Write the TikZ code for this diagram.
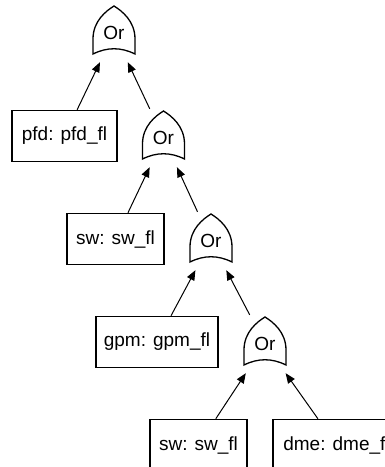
\documentclass[tikz,border=0pt]{standalone}
\usepackage{fontspec}
\setmainfont{Liberation Sans}
\usetikzlibrary{arrows.meta}

\begin{document}
\begin{tikzpicture}[x=1pt, y=-1pt,
  font=\fontsize{19}{22}\selectfont,
  event/.style={draw, line width=1.5pt, inner sep=0pt, minimum height=51pt},
  orgate/.style={inner sep=0pt, minimum width=42pt, minimum height=58pt},
  edge/.style={line width=1pt, -{Triangle[length=10pt, width=8pt]}}]
  \useasboundingbox (0,0) rectangle (384,467);

  \node[orgate] (g1) at (114,33) {Or};
  \node[event, minimum width=105pt] (pfd) at (64.5,136) {pfd: pfd\_fl};
  \node[orgate] (g2) at (163.5,138) {Or};
  \node[event, minimum width=97pt] (sw1) at (115.5,239) {sw: sw\_fl};
  \node[orgate] (g3) at (211,241) {Or};
  \node[event, minimum width=122pt] (gpm) at (157,342) {gpm: gpm\_fl};
  \node[orgate] (g4) at (265,344) {Or};
  \node[event, minimum width=97pt] (sw2) at (198.5,445) {sw: sw\_fl};
  \node[event, minimum width=127pt] (dme) at (336.5,445) {dme: dme\_fl};

  % the Or outlines
  \foreach \g in {g1,g2,g3,g4}
    \draw[line width=1.3pt, shift={(\g.center)}] (0,-27)
      .. controls (-8,-22) and (-21,-12) .. (-21,6) -- (-21,21)
      .. controls (-7,14) and (7,14) .. (21,21) -- (21,6)
      .. controls (21,-12) and (8,-22) .. cycle;

  \draw[edge] (pfd) -- (g1);
  \draw[edge] (g2) -- (g1);
  \draw[edge] (sw1) -- (g2);
  \draw[edge] (g3) -- (g2);
  \draw[edge] (gpm) -- (g3);
  \draw[edge] (g4) -- (g3);
  \draw[edge] (sw2) -- (g4);
  \draw[edge] (dme) -- (g4);
\end{tikzpicture}
\end{document}
